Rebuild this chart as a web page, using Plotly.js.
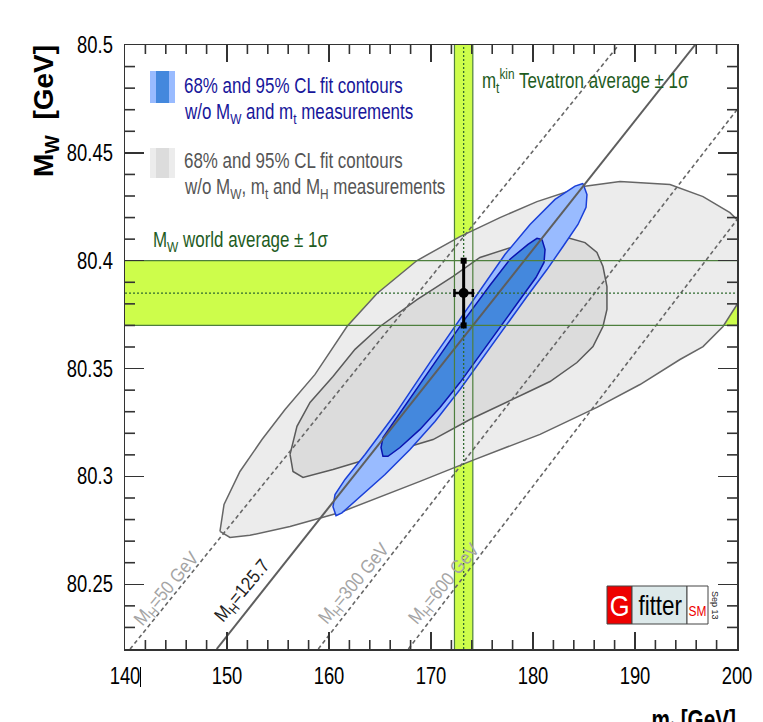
<!DOCTYPE html>
<html>
<head>
<meta charset="utf-8">
<script src="https://cdn.plot.ly/plotly-3.0.1.min.js"></script>
<style>
html, body { margin: 0; padding: 0; background: #fff; }
#chart { width: 763px; height: 722px; }
</style>
</head>
<body>
<div id="chart"></div>
<script>
// M_W versus m_t: indirect electroweak fit contours against the direct measurements

// Direct measurements (GeV)
const mwAverage = 80.385, mwError = 0.015;
const mtAverage = 173.2, mtError = 0.9;

// 95% CL contour of the fit without M_W, m_t and M_H
const grey95Mt = [149.31, 149.71, 151.27, 153.43, 155.69, 158.63, 161.76, 164.71, 168.63, 172.84,
  176.76, 180.39, 184.90, 188.53, 193.43, 196.67, 199.31, 201.47, 202.55, 201.76, 200.00, 198.63,
  196.67, 194.41, 190.49, 186.27, 180.69, 173.82, 168.92, 161.08, 156.18, 152.25, 150.29, 149.31];
const grey95Mw = [80.2745, 80.2870, 80.3023, 80.3171, 80.3310, 80.3473, 80.3695, 80.3848, 80.4001, 80.4112,
  80.4200, 80.4274, 80.4344, 80.4367, 80.4353, 80.4297, 80.4223, 80.4121, 80.3996, 80.3876, 80.3797, 80.3695,
  80.3602, 80.3542, 80.3426, 80.3320, 80.3195, 80.3070, 80.2977, 80.2833, 80.2768, 80.2727, 80.2717, 80.2745];

// 68% CL contour of the fit without M_W, m_t and M_H
const grey68Mt = [156.18, 156.86, 158.14, 160.39, 162.55, 165.00, 168.63, 172.16, 174.80, 178.73, 183.33,
  185.10, 186.27, 186.86, 187.25, 187.25, 186.86, 185.88, 184.31, 181.67, 179.41, 173.82, 170.20, 165.29,
  160.39, 157.45, 156.47, 156.18];
const grey68Mw = [80.3102, 80.3232, 80.3343, 80.3463, 80.3589, 80.3695, 80.3820, 80.3927, 80.4015, 80.4075, 80.4108,
  80.4084, 80.4038, 80.3973, 80.3880, 80.3774, 80.3695, 80.3602, 80.3528, 80.3440, 80.3389, 80.3264, 80.3171, 80.3102,
  80.3032, 80.2995, 80.3023, 80.3102];

// 95% CL contour of the fit without M_W and m_t
const blue95Mt = [184.90, 185.29, 185.20, 184.41, 182.94, 181.37, 179.41, 177.45, 175.29, 172.84, 170.39,
  167.94, 165.49, 163.04, 161.27, 160.69, 160.39, 160.59, 161.57, 163.53, 166.47, 169.90, 172.84, 175.29,
  177.25, 179.71, 182.16, 184.12, 184.90];
const blue95Mw = [80.4358, 80.4307, 80.4247, 80.4168, 80.4066, 80.3959, 80.3834, 80.3704, 80.3565, 80.3403, 80.3255,
  80.3125, 80.3009, 80.2907, 80.2831, 80.2818, 80.2860, 80.2916, 80.2986, 80.3102, 80.3288, 80.3529, 80.3728, 80.3899,
  80.4029, 80.4168, 80.4284, 80.4346, 80.4358];

// 68% CL contour of the fit without M_W and m_t
const blue68Mt = [180.88, 181.18, 181.08, 180.29, 178.73, 176.76, 174.80, 172.84, 170.88, 168.92, 166.96,
  165.78, 165.29, 165.10, 165.29, 166.18, 168.43, 170.88, 173.33, 175.78, 177.75, 179.51, 180.39, 180.88];
const blue68Mw = [80.4098, 80.4052, 80.3992, 80.3922, 80.3820, 80.3690, 80.3561, 80.3435, 80.3320, 80.3218, 80.3134,
  80.3093, 80.3093, 80.3134, 80.3180, 80.3241, 80.3390, 80.3562, 80.3729, 80.3886, 80.4007, 80.4076, 80.4104, 80.4098];

// SM prediction for fixed Higgs masses: end points of each line
const higgsLabels = ['M<sub>H</sub>=50 GeV', 'M<sub>H</sub>=125.7', 'M<sub>H</sub>=300 GeV', 'M<sub>H</sub>=600 GeV'];
const higgsLineMt = [[140.5, 188.4], [148.99, 195.88], [158.95, 200.0], [167.78, 200.0]];
const higgsLineMw = [[80.22, 80.50], [80.22, 80.50], [80.22, 80.470], [80.22, 80.419]];

const FONT = "'Liberation Sans', Arial, Helvetica, sans-serif";
const BAND = '#cdfd4b';
const BAND_EDGE = '#4d7f3d';
const TEXT_GREEN = '#1e5c1e';
const FRAME = '#333333';

const X_RANGE = [140, 200];
const Y_RANGE = [80.22, 80.5];

const traces = [];

function contour(xs, ys, fill, edge) {
  return { x: xs, y: ys, type: 'scatter', mode: 'lines', fill: 'toself', fillcolor: fill,
    line: { color: edge, width: 1.5 }, hoverinfo: 'skip', showlegend: false };
}
traces.push(contour(grey95Mt, grey95Mw, '#ececec', '#666666'));
traces.push(contour(grey68Mt, grey68Mw, '#dcdcdc', '#5a5a5a'));
traces.push(contour(blue95Mt, blue95Mw, '#99bbff', '#1a3fd8'));
traces.push(contour(blue68Mt, blue68Mw, '#4488dd', '#0a14b0'));

// Higgs-mass lines
higgsLabels.forEach((lab, i) => {
  const solid = i === 1;
  traces.push({ x: higgsLineMt[i], y: higgsLineMw[i], type: 'scatter', mode: 'lines',
    line: { color: solid ? '#5e5e5e' : '#666666', width: solid ? 2 : 1.6, dash: solid ? 'solid' : '4px,3px' },
    hoverinfo: 'skip', showlegend: false });
});

// band edges and central values of the direct measurements
const mwLo = mwAverage - mwError, mwHi = mwAverage + mwError;
const mtLo = mtAverage - mtError, mtHi = mtAverage + mtError;
function gline(xs, ys, dash) {
  return { x: xs, y: ys, type: 'scatter', mode: 'lines',
    line: { color: dash ? '#2f6a2f' : BAND_EDGE, width: dash ? 1.3 : 1.2, dash: dash ? '2px,2px' : 'solid' },
    hoverinfo: 'skip', showlegend: false };
}
traces.push(gline(X_RANGE, [mwLo, mwLo]));
traces.push(gline(X_RANGE, [mwHi, mwHi]));
traces.push(gline([mtLo, mtLo], Y_RANGE));
traces.push(gline([mtHi, mtHi], Y_RANGE));
traces.push(gline(X_RANGE, [mwAverage, mwAverage], true));
traces.push(gline([mtAverage, mtAverage], Y_RANGE, true));

// combined direct measurement with its errors
traces.push({ x: [mtAverage], y: [mwAverage], type: 'scatter', mode: 'markers',
  marker: { color: '#000', size: 10, symbol: 'circle' },
  error_y: { type: 'data', array: [mwError], color: '#000', thickness: 3, width: 0 },
  error_x: { type: 'data', array: [mtError], color: '#000', thickness: 2.5, width: 4 },
  hoverinfo: 'skip', showlegend: false });
traces.push({ x: [mtAverage, mtAverage], y: [mwLo, mwHi], type: 'scatter', mode: 'markers',
  marker: { color: '#000', size: 6, symbol: 'square' }, hoverinfo: 'skip', showlegend: false });

// plot area is 612 x 604 px
const PW = 612, PH = 604;
const px = v => (v - 125) / PW;
const py = v => 1 - (v - 45) / PH;
const xPaper = v => (v - X_RANGE[0]) / (X_RANGE[1] - X_RANGE[0]);
const yPaper = v => (v - Y_RANGE[0]) / (Y_RANGE[1] - Y_RANGE[0]);

const shapes = [
  { type: 'rect', layer: 'below', xref: 'x', yref: 'paper', x0: mtLo, x1: mtHi, y0: 0, y1: 1,
    fillcolor: BAND, line: { width: 0 } },
  { type: 'rect', layer: 'below', xref: 'paper', yref: 'y', x0: 0, x1: 1, y0: mwLo, y1: mwHi,
    fillcolor: BAND, line: { width: 0 } },
  // legend swatches
  { type: 'rect', xref: 'paper', yref: 'paper', x0: px(150), x1: px(175), y0: py(103), y1: py(71),
    fillcolor: '#99bbff', line: { width: 0 } },
  { type: 'rect', xref: 'paper', yref: 'paper', x0: px(156), x1: px(169), y0: py(103), y1: py(71),
    fillcolor: '#4488dd', line: { width: 0 } },
  { type: 'rect', xref: 'paper', yref: 'paper', x0: px(150), x1: px(175), y0: py(178), y1: py(148),
    fillcolor: '#ececec', line: { width: 0 } },
  { type: 'rect', xref: 'paper', yref: 'paper', x0: px(156), x1: px(169), y0: py(178), y1: py(148),
    fillcolor: '#dcdcdc', line: { width: 0 } },
  // Gfitter logo
  { type: 'rect', xref: 'paper', yref: 'paper', x0: px(607), x1: px(632), y0: py(624), y1: py(586),
    fillcolor: '#ee0000', line: { color: '#444', width: 1 } },
  { type: 'rect', xref: 'paper', yref: 'paper', x0: px(632), x1: px(687), y0: py(624), y1: py(586),
    fillcolor: '#dde9ea', line: { color: '#444', width: 1 } },
  { type: 'rect', xref: 'paper', yref: 'paper', x0: px(687), x1: px(708), y0: py(624), y1: py(586),
    fillcolor: '#ffffff', line: { color: '#444', width: 1 } },
  // stray bar next to the first x label
  { type: 'line', xref: 'paper', yref: 'paper', x0: px(140.5), x1: px(140.5), y0: py(667), y1: py(687),
    line: { color: '#000', width: 1 } }
];

// minor ticks on all four sides of the frame: every 2 GeV in m_t, every 10 MeV in M_W
const minorLenX = 9 / PH, minorLenY = 10 / PW;
for (let k = 71; k < 100; k++) {
  if (k % 5 === 0) continue;
  const xp = xPaper(2 * k);
  shapes.push({ type: 'line', xref: 'paper', yref: 'paper', x0: xp, x1: xp, y0: 0, y1: minorLenX,
    line: { color: FRAME, width: 1.6 } });
  shapes.push({ type: 'line', xref: 'paper', yref: 'paper', x0: xp, x1: xp, y0: 1, y1: 1 - minorLenX,
    line: { color: FRAME, width: 1.6 } });
}
for (let k = 8023; k < 8050; k++) {
  if (k % 5 === 0) continue;
  const yp = yPaper(k / 100);
  shapes.push({ type: 'line', xref: 'paper', yref: 'paper', x0: 0, x1: minorLenY, y0: yp, y1: yp,
    line: { color: FRAME, width: 1.6 } });
  shapes.push({ type: 'line', xref: 'paper', yref: 'paper', x0: 1, x1: 1 - minorLenY, y0: yp, y1: yp,
    line: { color: FRAME, width: 1.6 } });
}

// each annotation carries a horizontal squeeze factor (narrow typeface look)
const squeeze = [];
const annotations = [];
function addNote(opts, factor) { annotations.push(opts); squeeze.push(factor); }

const blueTxt = '#17169a', greyTxt = '#555555';
addNote({ xref: 'paper', yref: 'paper', x: px(182), y: py(86), xanchor: 'left', yanchor: 'middle', align: 'left',
  text: '68% and 95% CL fit contours', showarrow: false, font: { family: FONT, size: 22, color: blueTxt } }, 0.77);
addNote({ xref: 'paper', yref: 'paper', x: px(182), y: py(113), xanchor: 'left', yanchor: 'middle', align: 'left',
  text: 'w/o M<sub>W</sub> and m<sub>t</sub> measurements', showarrow: false, font: { family: FONT, size: 22, color: blueTxt } }, 0.77);
addNote({ xref: 'paper', yref: 'paper', x: px(182), y: py(160), xanchor: 'left', yanchor: 'middle', align: 'left',
  text: '68% and 95% CL fit contours', showarrow: false, font: { family: FONT, size: 22, color: greyTxt } }, 0.77);
addNote({ xref: 'paper', yref: 'paper', x: px(182), y: py(188), xanchor: 'left', yanchor: 'middle', align: 'left',
  text: 'w/o M<sub>W</sub>, m<sub>t</sub> and M<sub>H</sub> measurements', showarrow: false, font: { family: FONT, size: 22, color: greyTxt } }, 0.77);
addNote({ xref: 'paper', yref: 'paper', x: px(151), y: py(241), xanchor: 'left', yanchor: 'middle', align: 'left',
  text: 'M<sub>W</sub> world average ± 1σ', showarrow: false, font: { family: FONT, size: 22, color: TEXT_GREEN } }, 0.77);
addNote({ xref: 'paper', yref: 'paper', x: px(480), y: py(81), xanchor: 'left', yanchor: 'middle', align: 'left',
  text: 'm<sub>t</sub><sup>kin</sup> Tevatron average ± 1σ', showarrow: false, font: { family: FONT, size: 22, color: TEXT_GREEN } }, 0.77);
// axis titles
addNote({ xref: 'paper', yref: 'paper', x: px(45), y: py(111), xanchor: 'center', yanchor: 'middle', textangle: -90,
  text: '<b>M<sub>W</sub>  [GeV]</b>', showarrow: false, font: { family: FONT, size: 28, color: '#000' } }, 1);
addNote({ xref: 'paper', yref: 'paper', x: px(738), y: py(702), xanchor: 'right', yanchor: 'top', align: 'right',
  text: '<b>m<sub>t</sub> [GeV]</b>', showarrow: false, font: { family: FONT, size: 28, color: '#000' } }, 0.74);
// logo text
addNote({ xref: 'paper', yref: 'paper', x: px(619.5), y: py(605), xanchor: 'center', yanchor: 'middle',
  text: 'G', showarrow: false, font: { family: FONT, size: 30, color: '#fff' } }, 0.85);
addNote({ xref: 'paper', yref: 'paper', x: px(659.5), y: py(605), xanchor: 'center', yanchor: 'middle',
  text: 'fitter', showarrow: false, font: { family: FONT, size: 28, color: '#000' } }, 0.8);
addNote({ xref: 'paper', yref: 'paper', x: px(697.5), y: py(611), xanchor: 'center', yanchor: 'middle',
  text: 'SM', showarrow: false, font: { family: FONT, size: 14, color: '#ee0000' } }, 0.85);
addNote({ xref: 'paper', yref: 'paper', x: px(715), y: py(605), xanchor: 'center', yanchor: 'middle', textangle: 90,
  text: 'Sep 13', showarrow: false, font: { family: FONT, size: 9, color: '#222' } }, 1);

// labels along the Higgs-mass lines
const labelSpots = [[144.2, 80.2476], [151.6, 80.2467], [162.55, 80.2500], [171.4, 80.2500]];
higgsLabels.forEach((lab, i) => {
  addNote({ xref: 'x', yref: 'y', x: labelSpots[i][0], y: labelSpots[i][1],
    text: lab, textangle: -50, showarrow: false,
    font: { family: FONT, size: 19, color: i === 1 ? '#222222' : '#a4a4a4' } }, 0.88);
});

const axisCommon = {
  showgrid: false, zeroline: false, showline: true, linecolor: FRAME, linewidth: 1.5,
  mirror: 'ticks', ticks: 'inside', tickcolor: FRAME, tickwidth: 1.5, tickmode: 'linear',
  tickfont: { family: FONT, size: 23, color: '#000' }
};

const layout = {
  width: 763, height: 722,
  margin: { l: 125, r: 26, t: 45, b: 73, pad: 0 },
  paper_bgcolor: '#fff', plot_bgcolor: '#fff',
  showlegend: false,
  xaxis: Object.assign({}, axisCommon, { range: X_RANGE, tick0: 140, dtick: 10, ticklen: 17, ticklabelstandoff: 6 }),
  yaxis: Object.assign({}, axisCommon, { range: Y_RANGE, tick0: 80.25, dtick: 0.05, ticklen: 19, ticklabelstandoff: 6 }),
  shapes: shapes,
  annotations: annotations
};

// squeeze a text element horizontally about its anchor
function narrow(el, f) {
  if (!el || f === 1) return;
  const w = el.getComputedTextLength();
  if (w > 0) {
    el.setAttribute('textLength', (w * f).toFixed(2));
    el.setAttribute('lengthAdjust', 'spacingAndGlyphs');
  }
}

Plotly.newPlot('chart', traces, layout, { staticPlot: true, displayModeBar: false }).then(gd => {
  gd.querySelectorAll('g.annotation').forEach(g => {
    const i = +g.getAttribute('data-index');
    narrow(g.querySelector('text.annotation-text'), squeeze[i]);
  });
  gd.querySelectorAll('g.xtick text, g.ytick text').forEach(t => narrow(t, 0.8));
});
</script>
</body>
</html>
